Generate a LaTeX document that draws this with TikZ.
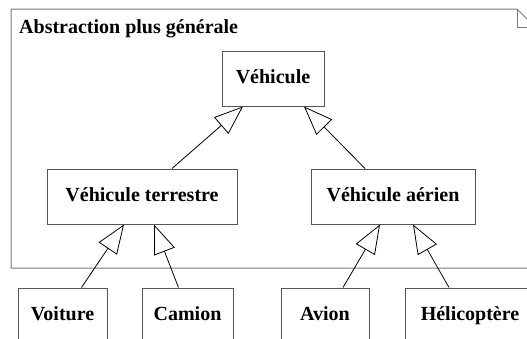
\documentclass[tikz,border=0pt]{standalone}
\usepackage{fontspec}
\setmainfont{Liberation Serif}
\usepackage{xcolor}
\usepackage{tikz}
\usetikzlibrary{arrows.meta, positioning}
\definecolor{kframe}{HTML}{7A7A7A}
\definecolor{kbox}{HTML}{555555}

\tikzset{
  classbox/.style={draw=kbox, line width=1pt, inner sep=0pt, minimum height=55pt,
    text height=14pt, text depth=4pt, font=\fontsize{20}{24}\selectfont\bfseries},
  inherits/.style={line width=0.8pt, -{Triangle[open, length=29pt, width=22pt]}}
}

\begin{document}
\begin{tikzpicture}[x=1pt, y=-1pt]

  \useasboundingbox (0,0) rectangle (527,338);
  \clip (0,0) rectangle (527,338);

  %% Package frame with folded corner
  \draw[kframe, line width=1pt] (545,268) -- (11,268) -- (11,9) -- (517,9) -- (535,27) -- (535,268);
  \draw[kframe, line width=1pt] (517,9) -- (517,27) -- (535,27);
  \node[font=\fontsize{20}{24}\selectfont\bfseries, anchor=base west, inner sep=0pt] (title) at (19,33)
    {Abstraction plus générale};

  %% Classes
  \node[classbox, minimum width=102pt] (veh) at (273,78.5) {Véhicule};
  \node[classbox, minimum width=190pt] (vterr) at (142,196.5) {Véhicule terrestre};
  \node[classbox, minimum width=164pt] (vaer) at (393,196.5) {Véhicule aérien};

  \node[classbox, minimum width=89pt] (voit) at (62.5,315.5) {Voiture};
  \node[classbox, minimum width=91pt] (cam) at (187.5,315.5) {Camion};
  \node[classbox, minimum width=88pt] (avion) at (325,315.5) {Avion};
  \node[classbox, minimum width=130pt] (helico) at (470,315.5) {Hélicoptère};

  %% Generalisation arrows
  \draw[inherits] ([xshift=30pt]vterr.north) -- ([xshift=-30pt]veh.south);
  \draw[inherits] ([xshift=-28pt]vaer.north) -- ([xshift=31pt]veh.south);
  \draw[inherits] ([xshift=19pt]voit.north) -- ([xshift=-18pt]vterr.south);
  \draw[inherits] ([xshift=-9pt]cam.north) -- ([xshift=12pt]vterr.south);
  \draw[inherits] ([xshift=18pt]avion.north) -- ([xshift=-13pt]vaer.south);
  \draw[inherits] ([xshift=-21pt]helico.north) -- ([xshift=20pt]vaer.south);

\end{tikzpicture}
\end{document}
